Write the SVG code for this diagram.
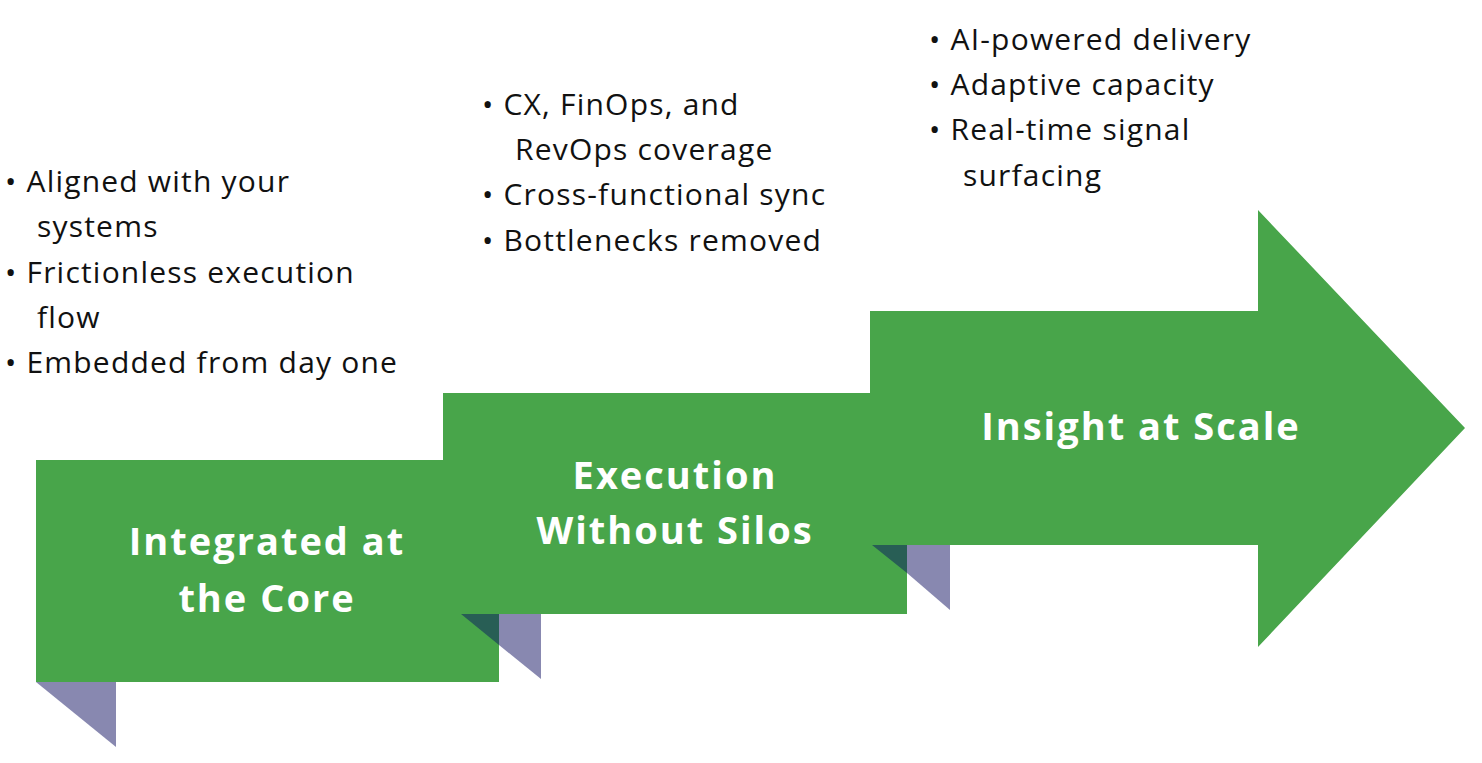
<svg xmlns="http://www.w3.org/2000/svg" width="1482" height="763" viewBox="0 0 1482 763">
<style>
.g{fill:#48a54a}.p{fill:#8888b0}.d{fill:#285e55}
.t{font-family:"Open Sans","DejaVu Sans",sans-serif;font-weight:700;font-size:38px;fill:#fff;text-anchor:middle;letter-spacing:2px}
.b{font-family:"Open Sans","DejaVu Sans",sans-serif;font-size:30px;fill:#111;letter-spacing:1.2px}
</style>
<rect width="1482" height="763" fill="#fff"/>
<g id="step1">
<polygon class="p" points="36,682 116,682 116,747"/>
<rect class="g" x="36" y="460" width="463" height="222"/>
<text class="t" x="267" y="555">Integrated at</text>
<text class="t" x="267" y="612">the Core</text>
</g>
<g id="step2">
<polygon class="p" points="499,614 541,614 541,679 499,645"/>
<polygon class="d" points="461,614 499,614 499,645"/>
<rect class="g" x="443" y="393" width="464" height="221"/>
<text class="t" x="675" y="489">Execution</text>
<text class="t" x="675" y="544">Without Silos</text>
</g>
<g id="step3">
<polygon class="p" points="907,545 950,545 950,610 907,573"/>
<polygon class="d" points="872,545 907,545 907,573"/>
<polygon class="g" points="870,311 1258,311 1258,210 1465,428 1258,647 1258,545 870,545"/>
<text class="t" x="1141" y="440">Insight at Scale</text>
</g>
<g id="list1" class="b">
<text x="5" y="192">•  Aligned with your</text>
<text x="37" y="237">systems</text>
<text x="5" y="283">•  Frictionless execution</text>
<text x="37" y="328">flow</text>
<text x="5" y="373">•  Embedded from day one</text>
</g>
<g id="list2" class="b">
<text x="482" y="115">•  CX, FinOps, and</text>
<text x="515" y="160">RevOps coverage</text>
<text x="482" y="205">•  Cross-functional sync</text>
<text x="482" y="251">•  Bottlenecks removed</text>
</g>
<g id="list3" class="b">
<text x="929" y="50">•  AI-powered delivery</text>
<text x="929" y="95">•  Adaptive capacity</text>
<text x="929" y="140">•  Real-time signal</text>
<text x="963" y="186">surfacing</text>
</g>
<g id="connectors"/>
</svg>
